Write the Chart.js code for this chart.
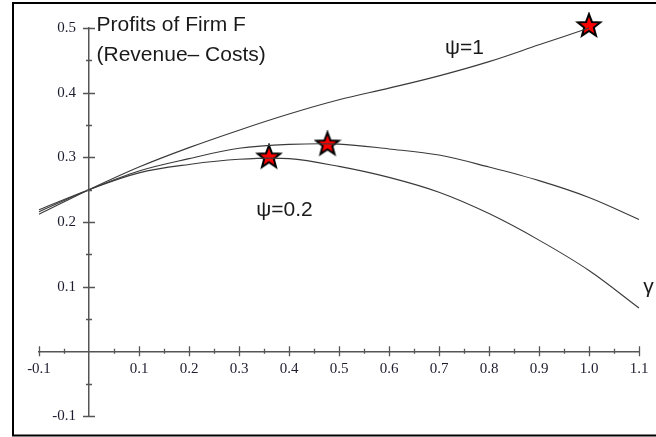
<!DOCTYPE html>
<html><head><meta charset="utf-8">
<script src="https://cdn.jsdelivr.net/npm/chart.js@4/dist/chart.umd.min.js"></script>
<style>html,body{margin:0;padding:0;background:#fff;overflow:hidden}#wrap{width:656px;height:437px;position:relative}</style>
</head><body><div id="wrap"><canvas id="c" width="656" height="437"></canvas></div>
<script>
// ---- data ----
const gammaValues   = [-0.1, 0, 0.1, 0.2, 0.3, 0.4, 0.5, 0.6, 0.7, 0.8, 0.9, 1.0, 1.1];
const profitPsi1    = [0.212, 0.25, 0.285, 0.315, 0.342, 0.367, 0.389, 0.407, 0.426, 0.448, 0.474, 0.5]; // to gamma = 1.0
const profitPsiMid  = [0.216, 0.25, 0.279, 0.298, 0.314, 0.320, 0.3205, 0.313, 0.3035, 0.285, 0.264, 0.238, 0.204];
const profitPsi02   = [0.219, 0.25, 0.276, 0.289, 0.297, 0.298, 0.286, 0.269, 0.246, 0.213, 0.172, 0.125, 0.067];
const optimumGamma  = [0.36, 0.477, 1.0];
const optimumProfit = [0.300, 0.320, 0.503];
const xTickValues   = [-0.1, 0, 0.1, 0.2, 0.3, 0.4, 0.5, 0.6, 0.7, 0.8, 0.9, 1.0, 1.1];
const yTickValues   = [-0.1, 0, 0.1, 0.2, 0.3, 0.4, 0.5];
const annotationTexts = ['Profits of Firm F', '(Revenue\u2013 Costs)', '\u03C8=1', '\u03C8=0.2', '\u03B3'];

// ---- helpers ----
function toPoints(xs, ys) { return ys.map((y, i) => ({x: xs[i], y: y})); }
function makeStar(R) {
  let s = Math.ceil(R * 2 + 4); if (s % 2) s++;
  const c = document.createElement('canvas'); c.width = s; c.height = s;
  const g = c.getContext('2d'); g.translate(s / 2, s / 2);
  g.beginPath();
  for (let i = 0; i < 10; i++) {
    const r = i % 2 ? R * 0.42 : R;
    const a = -Math.PI / 2 + i * Math.PI / 5;
    g.lineTo(r * Math.cos(a), r * Math.sin(a));
  }
  g.closePath(); g.fillStyle = '#ff0000'; g.fill();
  g.lineWidth = 2; g.strokeStyle = '#000'; g.lineJoin = 'miter'; g.stroke();
  return c;
}
const starImg = makeStar(12);

const lineStyle = {showLine: true, borderColor: '#3a3a3a', borderWidth: 1.1, pointRadius: 0,
  tension: 0.35, clip: false};

const axisTicksPlugin = {
  id: 'axisTicks',
  beforeDraw(chart) {
    // move y tick labels left of the axis (labels stay library-drawn)
    const items = chart.scales.y.getLabelItems();
    items.forEach(it => { if (!it._moved) { it.options.translation[0] -= 13; it._moved = true; } });
  },
  afterDatasetsDraw(chart) {
    const {ctx, scales: {x, y}} = chart;
    const x0 = x.getPixelForValue(0), y0 = y.getPixelForValue(0);
    ctx.save(); ctx.strokeStyle = '#555'; ctx.lineWidth = 1.3;
    const xt = x.ticks.map(t => t.value), yt = y.ticks.map(t => t.value);
    ctx.beginPath();
    xt.forEach((v, i) => {
      const px = Math.round(x.getPixelForValue(v)) + 0.5;
      if (Math.abs(v) > 1e-9) { ctx.moveTo(px, y0 - 5); ctx.lineTo(px, y0 + 5); }
      if (i < xt.length - 1) {
        const m = Math.round(x.getPixelForValue((v + xt[i + 1]) / 2)) + 0.5;
        ctx.moveTo(m, y0 - 2.5); ctx.lineTo(m, y0 + 2.5);
      }
    });
    yt.forEach((v, i) => {
      const py = Math.round(y.getPixelForValue(v)) + 0.5;
      if (Math.abs(v) > 1e-9) { ctx.moveTo(x0 - 6, py); ctx.lineTo(x0 + 6, py); }
      if (i < yt.length - 1) {
        const m = Math.round(y.getPixelForValue((v + yt[i + 1]) / 2)) + 0.5;
        ctx.moveTo(x0 - 3, m); ctx.lineTo(x0 + 3, m);
      }
    });
    ctx.stroke(); ctx.restore();
  }
};

const framePlugin = {
  id: 'frame',
  beforeDraw(chart) {
    const ctx = chart.ctx; ctx.save();
    ctx.strokeStyle = '#000'; ctx.lineWidth = 2;
    ctx.strokeRect(13, 3, 700, 432.5);
    ctx.restore();
  }
};

const textPlugin = {
  id: 'texts',
  afterDraw(chart) {
    const {ctx, scales: {x, y}} = chart;
    ctx.save(); ctx.fillStyle = '#1a1a1a'; ctx.textBaseline = 'middle';
    ctx.font = '21px "Liberation Sans", Arial, sans-serif';
    ctx.textAlign = 'left';
    ctx.fillText(annotationTexts[0], x.getPixelForValue(0.015), y.getPixelForValue(0.505));
    ctx.fillText(annotationTexts[1], x.getPixelForValue(0.015), y.getPixelForValue(0.458));
    ctx.textAlign = 'center';
    ctx.fillText(annotationTexts[2], x.getPixelForValue(0.751), y.getPixelForValue(0.469));
    ctx.fillText(annotationTexts[3], x.getPixelForValue(0.391), y.getPixelForValue(0.218));
    ctx.fillText(annotationTexts[4], x.getPixelForValue(1.119), y.getPixelForValue(0.099));
    ctx.restore();
  }
};

const zeroSize = (s) => { if (s.isHorizontal()) s.height = 0; else s.width = 0;
  s.paddingLeft = s.paddingRight = s.paddingTop = s.paddingBottom = 0; };
const fmt = (v) => Math.abs(v) < 1e-9 ? '' : Number(v).toFixed(1);

new Chart(document.getElementById('c'), {
  type: 'scatter',
  data: {
    datasets: [
      Object.assign({label: 'psi=1', data: toPoints(gammaValues, profitPsi1)}, lineStyle),
      Object.assign({label: 'psi mid', data: toPoints(gammaValues, profitPsiMid)}, lineStyle),
      Object.assign({label: 'psi=0.2', data: toPoints(gammaValues, profitPsi02)}, lineStyle),
      {label: 'optimum', data: toPoints(optimumGamma, optimumProfit), showLine: false,
       pointStyle: starImg, pointRadius: 12, clip: false}
    ]
  },
  options: {
    responsive: false, devicePixelRatio: 1, animation: false,
    layout: {autoPadding: false, padding: {left: 39, right: 17, top: 28, bottom: 21}},
    plugins: {legend: {display: false}, tooltip: {enabled: false}, title: {display: false}},
    scales: {
      x: {type: 'linear', min: -0.1, max: 1.1, position: {y: 0},
          afterBuildTicks: (s) => { s.ticks = xTickValues.map(v => ({value: v})); },
          afterFit: zeroSize,
          grid: {display: false, drawTicks: true, tickLength: 6},
          border: {display: true, color: '#555', width: 1.5},
          ticks: {padding: 3, autoSkip: false, maxRotation: 0, color: '#1c1c2e',
                  font: {family: '"Liberation Serif", "Times New Roman", serif', size: 15},
                  callback: fmt}},
      y: {type: 'linear', min: -0.1, max: 0.5, position: {x: 0},
          afterBuildTicks: (s) => { s.ticks = yTickValues.map(v => ({value: v})); },
          afterFit: zeroSize,
          grid: {display: false, drawTicks: true, tickLength: 6},
          border: {display: true, color: '#555', width: 1.5},
          ticks: {padding: 7, autoSkip: false, color: '#1c1c2e',
                  font: {family: '"Liberation Serif", "Times New Roman", serif', size: 15},
                  callback: fmt}}
    }
  },
  plugins: [framePlugin, axisTicksPlugin, textPlugin]
});
</script></body></html>
